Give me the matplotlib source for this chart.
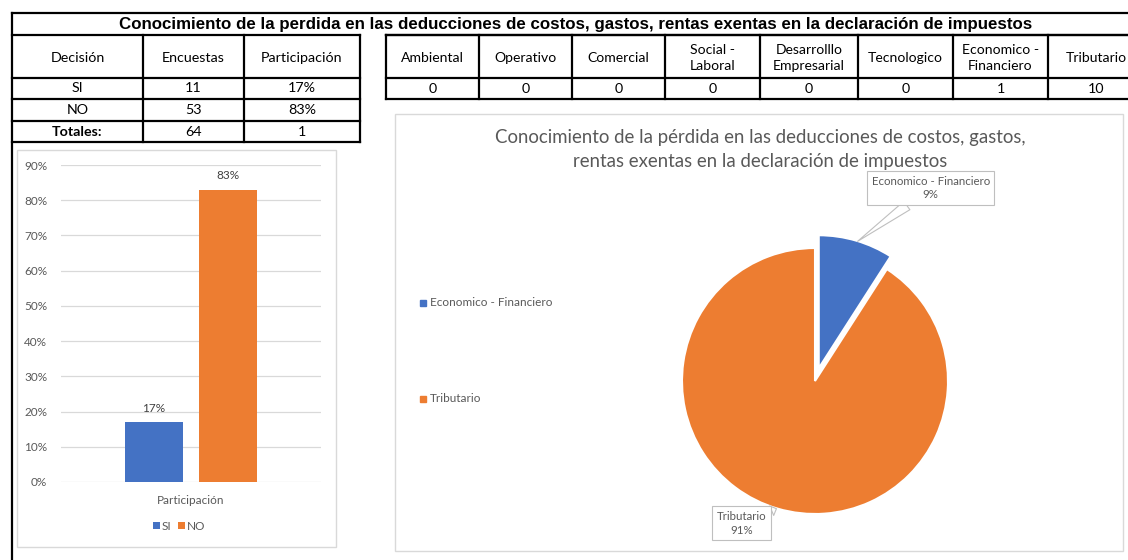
import numpy as np
import matplotlib.pyplot as plt
from matplotlib.patches import Rectangle
from matplotlib.ticker import PercentFormatter

# --- data read from the sheet ---
titulo = 'Conocimiento de la perdida en las deducciones de costos, gastos, rentas exentas en la declaración de impuestos'
decisiones = ['SI', 'NO']
encuestas = [11, 53]
participacion = [0.17, 0.83]
total_encuestas = 64
total_participacion = 1

categorias = ['Ambiental', 'Operativo', 'Comercial', 'Social -\nLaboral', 'Desarrolllo\nEmpresarial',
              'Tecnologico', 'Economico -\nFinanciero', 'Tributario']
conteos = [0, 0, 0, 0, 0, 0, 1, 10]

pie_labels = ['Economico - Financiero', 'Tributario']
pie_values = [1, 10]
pie_title = 'Conocimiento de la pérdida en las deducciones de costos, gastos,\nrentas exentas en la declaración de impuestos'

AZUL = '#4472C4'
NARANJA = '#ED7D31'
GRIS = '#595959'
GRID = '#D9D9D9'
FONT = 'Lato'

W, H = 1128, 560
fig = plt.figure(figsize=(W / 100, H / 100), dpi=100)


def px_axes(x0, y0, x1, y1):
    return fig.add_axes([x0 / W, 1 - y1 / H, (x1 - x0) / W, (y1 - y0) / H])


# overlay for the spreadsheet cells and chart frames
ov = px_axes(0, 0, W, H)
ov.set_xlim(0, W)
ov.set_ylim(H, 0)
ov.axis('off')

lw = 1.6
# title row
ov.plot([12, W], [13, 13], color='black', lw=lw)
ov.plot([12, 12], [13, H], color='black', lw=lw)
ov.plot([12, 360], [35, 35], color='black', lw=lw)
ov.plot([386, W], [35, 35], color='black', lw=lw)
ov.text(576, 24, titulo, ha='center', va='center', fontsize=12.2, fontweight='bold',
        family='Liberation Sans')

# left table
col_x = [12, 143, 244, 360]
row_y = [35, 78, 99, 121, 142]
for y in row_y[1:]:
    ov.plot([col_x[0], col_x[-1]], [y, y], color='black', lw=lw)
for x in col_x[1:]:
    ov.plot([x, x], [row_y[0], row_y[-1]], color='black', lw=lw)
filas = [['Decisión', 'Encuestas', 'Participación']]
for d, e, p in zip(decisiones, encuestas, participacion):
    filas.append([d, str(e), f'{p:.0%}'])
filas.append(['Totales:', str(total_encuestas), str(total_participacion)])
for i, fila in enumerate(filas):
    yc = (row_y[i] + row_y[i + 1]) / 2 + (1.5 if i == 0 else 0)
    for j, val in enumerate(fila):
        xc = (col_x[j] + col_x[j + 1]) / 2
        ov.text(xc, yc, val, ha='center', va='center', fontsize=10.3, family=FONT,
                fontweight='bold' if val == 'Totales:' else 'normal')

# right table
rcol_x = [386, 479, 572, 665, 760, 858, 953, 1048, 1144]
rrow_y = [35, 78, 99]
for y in rrow_y:
    ov.plot([rcol_x[0], W], [y, y], color='black', lw=lw)
for x in rcol_x[:-1]:
    ov.plot([x, x], [rrow_y[0], rrow_y[-1]], color='black', lw=lw)
for j, (cat, n) in enumerate(zip(categorias, conteos)):
    xc = (rcol_x[j] + rcol_x[j + 1]) / 2
    ov.text(xc, 58, cat, ha='center', va='center', fontsize=10.1, family=FONT, linespacing=1.4)
    ov.text(xc, 89, str(n), ha='center', va='center', fontsize=10.3, family=FONT)

# chart frames
ov.add_patch(Rectangle((17, 150), 319, 397, fill=False, ec=GRID, lw=1))
ov.add_patch(Rectangle((395, 114), 728, 437, fill=False, ec=GRID, lw=1))

# --- bar chart ---
ax = px_axes(61, 165, 321, 482)
ax.patch.set_visible(False)
bars = ax.bar([0, 1], participacion, width=0.78, color=[AZUL, NARANJA], label=decisiones)
ax.set_xlim(-1.26, 2.26)
ax.set_ylim(0, 0.9)
ax.set_yticks(np.arange(0, 0.91, 0.1))
ax.yaxis.set_major_formatter(PercentFormatter(1.0, decimals=0))
ax.set_xticks([0.5])
ax.set_xticklabels(['Participación'])
ax.tick_params(length=0, labelsize=8.5, labelcolor=GRIS, pad=10)
ax.tick_params(axis='x', pad=9)
for lab in ax.get_xticklabels() + ax.get_yticklabels():
    lab.set_family(FONT)
for s in ax.spines.values():
    s.set_visible(False)
ax.grid(axis='y', color=GRID, lw=0.9)
ax.set_axisbelow(True)
for b, p in zip(bars, participacion):
    ax.annotate(f'{p:.0%}', (b.get_x() + b.get_width() / 2, p), xytext=(0, 6),
                textcoords='offset points', ha='center', va='bottom', fontsize=8.5,
                color='#404040', family=FONT)
fig.legend(handles=bars, labels=decisiones, loc='center', bbox_to_anchor=(179 / W, 1 - 526 / H),
           ncol=2, frameon=False, handlelength=0.6, handleheight=0.6,
           handletextpad=0.2, columnspacing=0.5, labelcolor=GRIS, prop={'family': FONT, 'size': 8.5})

# --- pie chart ---
cx, cy, R = 815, 381, 133
span = 150
pax = px_axes(cx - span, cy - span, cx + span, cy + span)
pax.patch.set_visible(False)
wedges, _ = pax.pie(pie_values, colors=[AZUL, NARANJA], startangle=90, counterclock=False,
                    explode=[0.1, 0], radius=1, wedgeprops=dict(edgecolor='white', lw=1.5))
lim = span / R
pax.set_xlim(-lim, lim)
pax.set_ylim(-lim, lim)
pax.set_aspect('equal')
pax.axis('off')

total = sum(pie_values)
callouts = [((0.32, 1.05), (0.87, 1.45)), ((-0.29, -0.96), (-0.55, -1.07))]
for lab, v, (tip, box) in zip(pie_labels, pie_values, callouts):
    pax.annotate(f'{lab}\n{v / total:.0%}', xy=tip, xytext=box, ha='center', va='center',
                 fontsize=8.3, color=GRIS, family=FONT, annotation_clip=False, linespacing=1.3,
                 bbox=dict(boxstyle='square,pad=0.4', fc='white', ec='#BFBFBF', lw=0.8),
                 arrowprops=dict(arrowstyle='wedge,tail_width=0.9', fc='white', ec='#BFBFBF',
                                 lw=0.8, shrinkA=0, shrinkB=0))

ov.text(760, 150, pie_title, ha='center', va='center', fontsize=13.4, color=GRIS, family=FONT,
        linespacing=1.5)

# pie legend
for lab, col, y in zip(pie_labels, [AZUL, NARANJA], [303, 399]):
    ov.add_patch(Rectangle((420, y - 3), 6, 6, color=col))
    ov.text(430, y, lab, ha='left', va='center', fontsize=8.5, color=GRIS, family=FONT)

fig.savefig('out.png', dpi=100)
